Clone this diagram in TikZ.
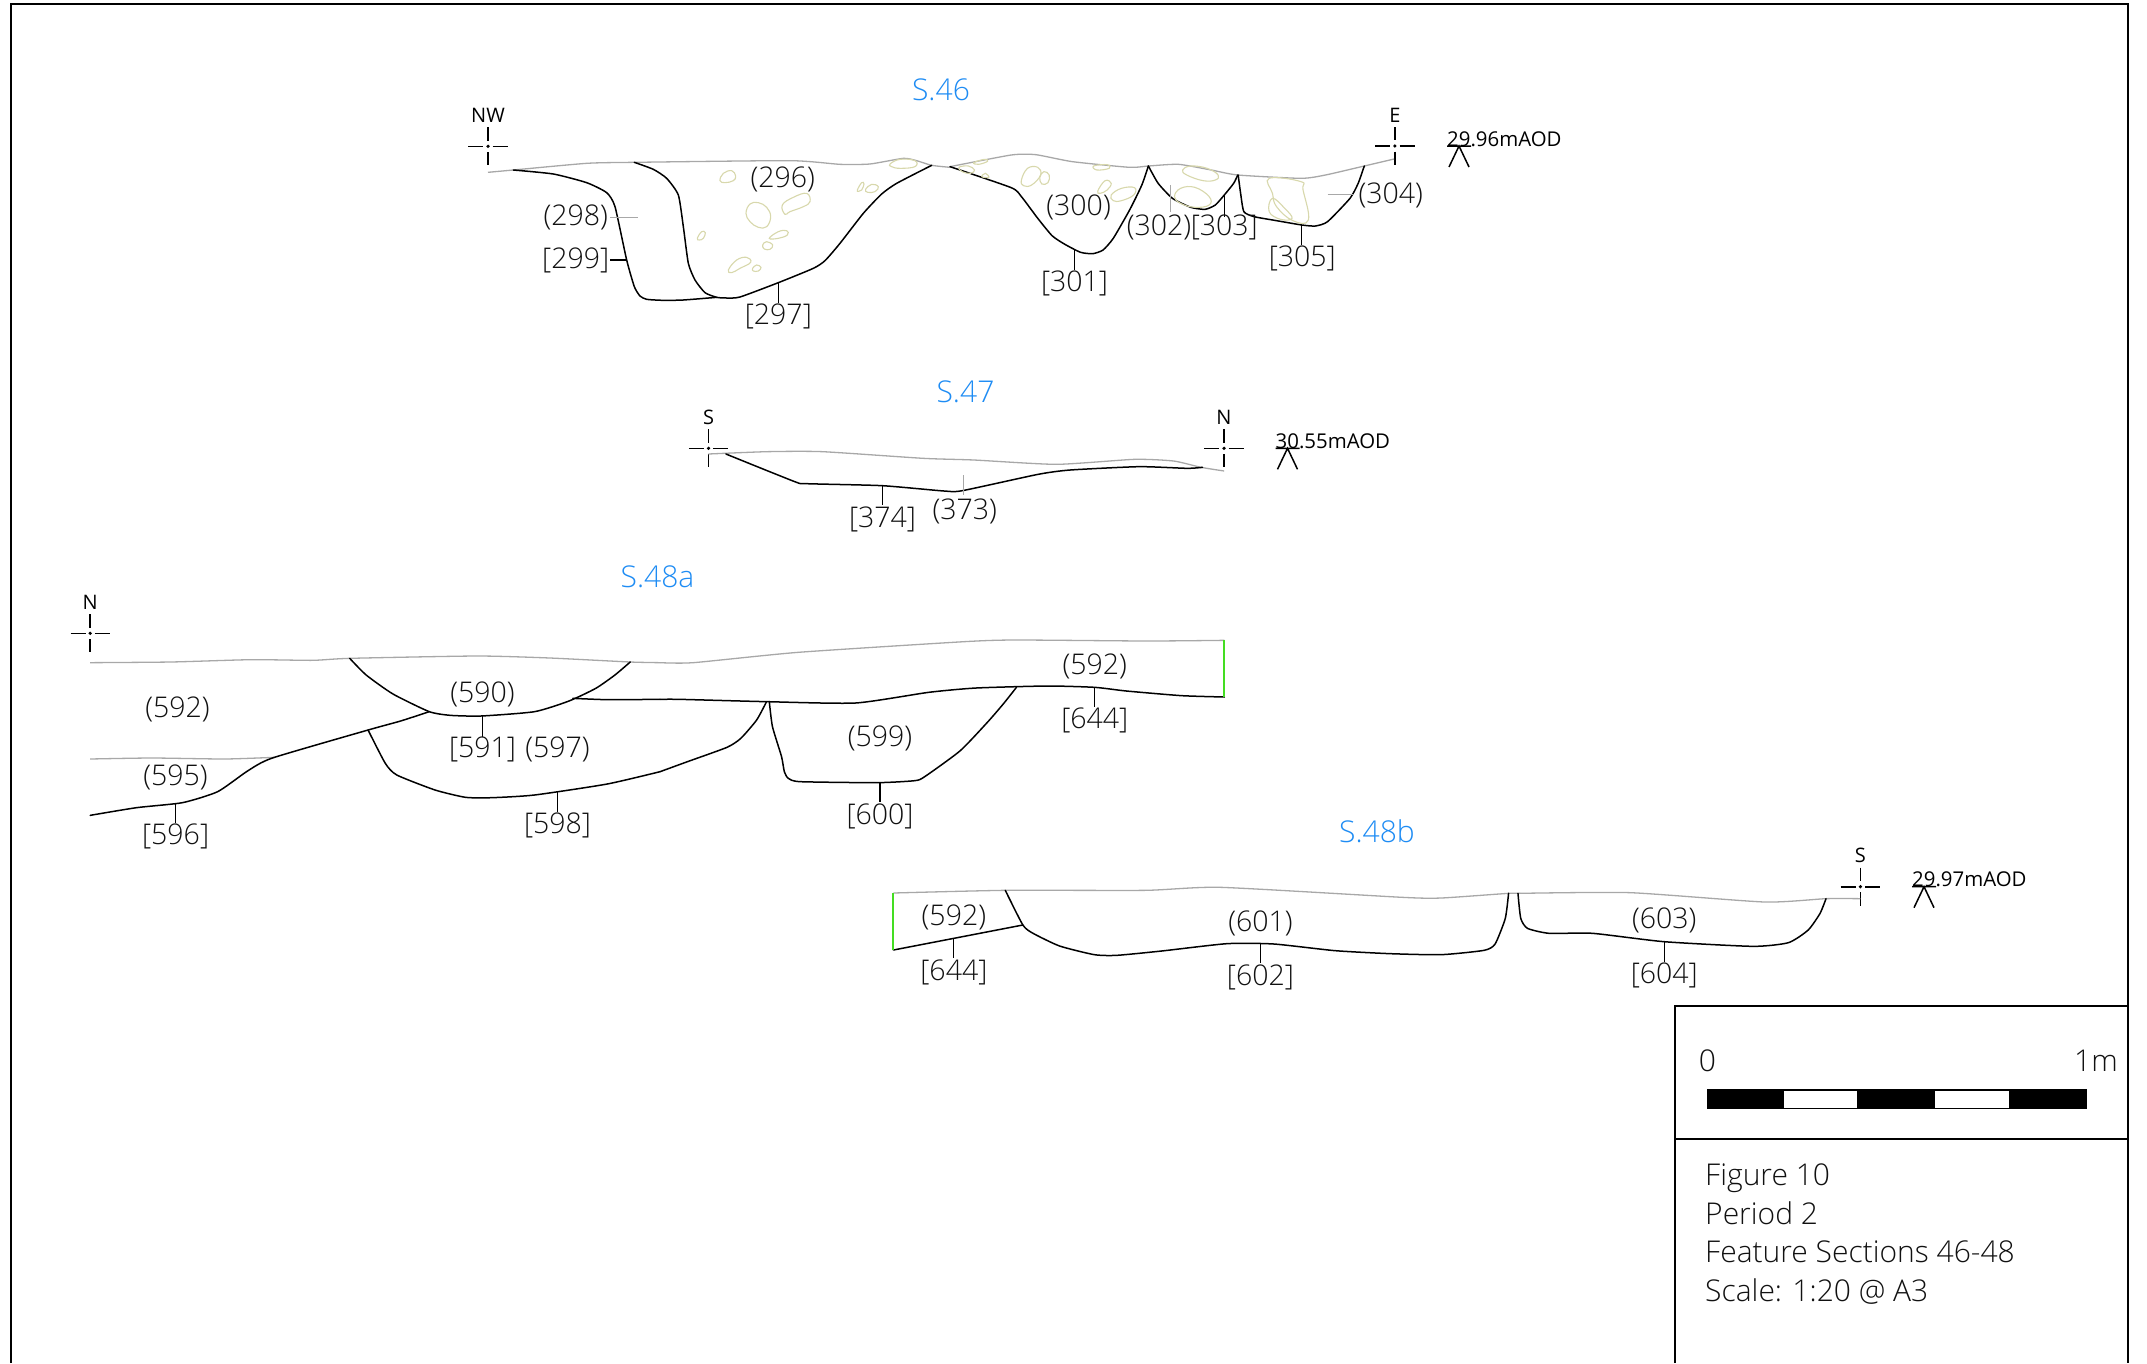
\documentclass[tikz,border=0pt]{standalone}
\usepackage{fontspec}
\setmainfont{Open Sans}[UprightFont=* Light]
\newfontfamily\regfont{Open Sans}
\definecolor{inkc}{HTML}{111111}
\definecolor{blueh}{HTML}{1E8CF4}
\definecolor{groundc}{HTML}{A8A8A8}
\definecolor{stonec}{HTML}{D8D8AC}
\definecolor{edgec}{HTML}{44DD22}
\tikzset{
 zm/.style n args={4}{shift={(#1pt,-#2pt)},x=#3pt,y=-#4pt},
 lab/.style={font=\fontsize{28.5}{30}\selectfont,text=inkc,inner sep=0pt,yshift=-1.2pt},
 head/.style={font=\fontsize{30}{32}\selectfont,text=blueh,inner sep=0pt},
 ttl/.style={font=\fontsize{30}{32}\selectfont,text=inkc,inner sep=0pt,anchor=base west},
 pt/.style={font=\regfont\fontsize{20}{22}\selectfont,text=black,inner sep=0pt},
 aod/.style={font=\regfont\fontsize{20.4}{22}\selectfont,text=black,inner sep=0pt},
 cutl/.style={black,line width=1.5pt,line join=round,line cap=round},
 ground/.style={groundc,line width=1.3pt,line join=round},
 leader/.style={black,line width=1.2pt},
 gleader/.style={groundc,line width=1.2pt},
 stone/.style={stonec,line width=1.1pt},
 frameb/.style={black,line width=2pt},
}
\newcommand{\smoothp}[2]{\draw[#1] plot[smooth,tension=.35] coordinates {#2};}
\newcommand{\stoneshape}[1]{\draw[stone] plot[smooth cycle,tension=.7] coordinates {#1};}
\newcommand{\marker}[5]{% name, x, y, letter, label-dy
 \node[pt] (#1) at (#2pt,-#3pt+#5pt) {#4};
 \begin{scope}[shift={(#2pt,-#3pt)}]
 \draw[line width=1.6pt] (-19.7,0)--(-4.7,0) (4.7,0)--(19.7,0) (0,-19)--(0,-5.7) (0,5.7)--(0,19);
 \fill (0,0) circle (1.8pt);
 \end{scope}}
\newcommand{\datum}[4]{% name, x, y(line), text
 \begin{scope}[shift={(#2pt,-#3pt)}]
 \draw[line width=1.5pt] (-12,0)--(12,0) (-10,21)--(0,0)--(10,21);
 \end{scope}
 \node[aod,anchor=west] (#1) at (#2pt-12pt,-#3pt+7pt) {#4};}
\begin{document}
\begin{tikzpicture}[x=1pt,y=-1pt]
\useasboundingbox (0,0) rectangle (2147,1363);
\fill[white] (0,0) rectangle (2147,1363);
% frame
\draw[frameb] (11,1363)--(11,4)--(2128,4)--(2128,1363);
\draw[frameb] (1675,1363)--(1675,1006)--(2128,1006);
\draw[frameb] (1675,1139)--(2128,1139);
% scale bar
\fill[black] (1706.7,1089) rectangle (2086.7,1109.3);
\fill[white] (1784,1090.7) rectangle (1857.3,1108);
\fill[white] (1935.3,1090.7) rectangle (2009,1108);
\node[lab,font=\fontsize{30}{32}\selectfont] (sc0) at (1707.3,1059.3) {0};
\node[lab,font=\fontsize{30}{32}\selectfont] (sc1) at (2096,1059.3) {1m};
\node[ttl] (t1) at (1705,1185) {Figure 10};
\node[ttl] (t2) at (1705,1224) {Period 2};
\node[ttl] (t3) at (1705,1262.5) {Feature Sections 46-48};
\node[ttl] (t4) at (1705,1301.5) {Scale: 1:20 @ A3};
% headings
\node[head] (h46) at (941,90) {S.46};
\node[head] (h47) at (965.5,391.5) {S.47};
\node[head] (h48a) at (657.5,577) {S.48a};
\node[head] (h48b) at (1377,831.5) {S.48b};
% markers
\marker{mNW}{488}{146.3}{NW}{31}
\marker{mE}{1394.9}{146}{E}{31}
\marker{mS}{708.5}{448.3}{S}{31}
\marker{mN}{1224}{448.3}{N}{31}
\marker{mNa}{90.2}{633.3}{N}{31}
\marker{mSb}{1860.4}{886.7}{S}{31}
% datum
\datum{d46}{1459}{146}{29.96mAOD}
\datum{d47}{1287.5}{448.3}{30.55mAOD}
\datum{d48}{1924}{886.7}{29.97mAOD}
% ---------- S.46 left
\begin{scope}[zm={450}{50}{.33333}{.33333}]
\smoothp{ground}{(114,367)(190,360)(410,340)(550,337)(1020,332)(1170,343)(1260,342)(1360,325)(1400,332)(1445,346)(1500,352)}
\smoothp{cutl}{(190,360)(310,372)(410,398)(470,428)(495,470)(530,630)(553,710)(570,738)(590,748)(640,751)(700,750)(800,742)}
\smoothp{cutl}{(553,337)(610,358)(650,385)(685,435)(700,530)(715,640)(735,690)(765,728)(800,742)(830,744)(870,741)(985,698)(1090,655)(1125,632)(1170,580)(1240,490)(1295,432)(1340,400)(1445,346)}
\draw[gleader] (480,503)--(565,503);
\draw[leader] (480,630)--(530,630) (985,698)--(985,760);
\stoneshape{(810,392)(820,370)(845,362)(857,378)(850,392)(825,398)}
\stoneshape{(888,490)(900,462)(925,458)(950,472)(962,500)(950,530)(925,532)(900,515)}
\stoneshape{(997,465)(1030,442)(1070,430)(1080,455)(1060,470)(1020,485)(1005,493)}
\stoneshape{(742,565)(755,545)(766,548)(760,565)(748,570)}
\stoneshape{(958,565)(985,545)(1010,542)(1012,555)(985,565)}
\stoneshape{(938,585)(950,575)(968,585)(960,598)(943,597)}
\stoneshape{(835,660)(860,630)(890,622)(902,637)(870,655)(845,668)}
\stoneshape{(908,655)(920,645)(933,652)(925,663)(910,663)}
\stoneshape{(1222,420)(1235,398)(1242,402)(1235,420)(1226,424)}
\stoneshape{(1247,418)(1265,403)(1285,410)(1275,425)(1253,427)}
\stoneshape{(1320,342)(1350,328)(1395,332)(1395,350)(1350,355)(1325,350)}
\node[lab] (l296) at (998,385) {(296)};
\node[lab] (l298) at (377,498) {(298)};
\node[lab] (l299) at (377,628) {[299]};
\node[lab] (l297) at (985,795) {[297]};
\end{scope}
% ---------- S.46 right
\begin{scope}[zm={950}{90}{.40816}{.33333}]
\smoothp{ground}{(0,230)(150,195)(210,194)(300,215)(440,232)(486,228)(560,223)(640,240)(705,255)(860,265)(920,255)(1015,228)(1088,207)}
\smoothp{cutl}{(0,230)(150,293)(175,320)(215,385)(250,437)(280,462)(320,487)(350,491)(375,480)(400,445)(440,360)(470,285)(486,228)}
\smoothp{cutl}{(486,228)(510,280)(545,325)(590,352)(625,358)(650,345)(672,315)(695,280)(705,255)}
\smoothp{cutl}{(706,255)(712,310)(720,365)(745,380)(800,392)(862,405)(895,408)(925,395)(980,325)(1000,280)(1015,228)}
\draw[leader] (305,480)--(305,540) (673,315)--(673,380) (862,405)--(862,465);
\draw[gleader] (925,314)--(990,314) (541,285)--(541,365);
\stoneshape{(22,232)(45,228)(60,240)(50,250)(30,245)}
\stoneshape{(58,218)(85,208)(92,214)(70,223)}
\stoneshape{(78,260)(87,250)(95,262)}
\stoneshape{(175,270)(190,235)(215,232)(222,255)(200,285)(180,287)}
\stoneshape{(220,262)(230,245)(243,255)(240,278)(225,282)}
\stoneshape{(352,228)(385,224)(390,235)(360,240)}
\stoneshape{(362,303)(380,272)(395,280)(385,300)(368,310)}
\stoneshape{(395,315)(420,295)(452,293)(450,315)(420,332)(400,332)}
\stoneshape{(570,240)(590,228)(630,235)(657,255)(650,270)(620,272)(580,255)}
\stoneshape{(550,320)(565,295)(600,292)(635,320)(635,345)(600,352)(565,340)}
\stoneshape{(782,265)(860,275)(865,300)(878,390)(840,392)(800,350)(790,310)}
\stoneshape{(782,365)(790,325)(820,355)(838,385)(810,388)}
\node[lab] (l300) at (315,350) {(300)};
\node[lab] (l302) at (512,408) {(302)};
\node[lab] (l303) at (672,408) {[303]};
\node[lab] (l304) at (1080,312) {(304)};
\node[lab] (l305) at (863,503) {[305]};
\node[lab] (l301) at (305,577) {[301]};
\end{scope}
% ---------- S.47
\begin{scope}[zm={680}{370}{.45914}{.33333}]
\smoothp{ground}{(62,252)(190,245)(310,245)(530,265)(640,270)(820,283)(990,268)(1075,273)(1135,292)(1185,303)}
\smoothp{cutl}{(100,252)(250,335)(275,341)(440,347)(575,363)(615,362)(780,313)(850,300)(1000,290)(1105,295)(1138,292)}
\draw[leader] (441,347)--(441,405);
\draw[gleader] (617,315)--(617,375);
\node[lab] (l374) at (441,445) {[374]};
\node[lab] (l373) at (620,422) {(373)};
\end{scope}
% ---------- S.48a left
\begin{scope}[zm={60}{580}{.3827}{.33333}]
\smoothp{ground}{(79,248)(290,246)(500,239)(660,241)(757,235)(1090,228)(1280,234)(1490,246)(1568,248)}
\smoothp{ground}{(79,537)(240,534)(430,537)(560,532)}
\smoothp{cutl}{(79,706)(200,683)(320,668)(412,635)(490,573)(555,534)(805,450)(890,423)(965,395)}
\smoothp{cutl}{(757,235)(800,285)(870,342)(965,395)(1020,406)(1100,408)(1240,395)(1330,363)(1400,325)(1450,285)(1490,246)}
\smoothp{cutl}{(1340,355)(1430,359)(1568,358)}
\smoothp{cutl}{(805,450)(850,550)(880,585)(980,630)(1060,652)(1130,653)(1240,645)(1430,612)(1568,575)}
\draw[leader] (1103,408)--(1103,470) (302,670)--(302,730) (1300,635)--(1300,695);
\node[lab] (a592) at (307,384) {(592)};
\node[lab] (a595) at (302,590) {(595)};
\node[lab] (a596) at (302,767) {[596]};
\node[lab] (a590) at (1104,340) {(590)};
\node[lab] (a591) at (1104,505) {[591]};
\node[lab] (a597) at (1300,505) {(597)};
\node[lab] (a598) at (1300,732) {[598]};
\end{scope}
% ---------- S.48a right
\begin{scope}[zm={640}{620}{.39541}{.33333}]
\smoothp{ground}{(50.8,128)(135,128)(400,97)(820,65)(950,60)(1280,63)(1478,61)}
\smoothp{cutl}{(50.8,238)(100,238)(320,245)(545,249)(730,217)(850,204)(1030,198)(1150,202)(1230,213)(1370,227)(1478,231)}
\smoothp{cutl}{(50.8,455)(120,425)(220,382)(255,355)(295,300)(320,245)}
\smoothp{cutl}{(327,245)(335,320)(358,410)(365,455)(375,475)(405,485)(600,488)(695,482)(720,470)(810,392)(880,305)(920,250)(952,202)}
\draw[edgec,line width=2pt] (1478,61)--(1478,231);
\draw[leader] (607,488)--(607,545) (1150,202)--(1150,260);
\node[lab] (a599) at (607,352) {(599)};
\node[lab] (a600) at (607,585) {[600]};
\node[lab] (a592b) at (1150,137) {(592)};
\node[lab] (a644) at (1150,297) {[644]};
\end{scope}
% ---------- S.48b left
\begin{scope}[zm={880}{820}{.40816}{.33333}]
\smoothp{ground}{(33,219)(307,211)(650,211)(835,202)(1280,232)(1375,234)(1540,220)(1568,220)}
\smoothp{cutl}{(307,211)(350,315)(375,340)(440,378)(525,404)(580,406)(690,393)(850,371)(965,372)(1115,392)(1250,401)(1375,404)(1480,391)(1507,372)(1532,295)(1540,220)}
\smoothp{cutl}{(33,390)(350,315)}
\draw[edgec,line width=2pt] (33,219)--(33,390);
\draw[leader] (181,357)--(181,415) (933,372)--(933,430);
\node[lab] (b592) at (181,288) {(592)};
\node[lab] (b644) at (181,453) {[644]};
\node[lab] (b601) at (932,307) {(601)};
\node[lab] (b602) at (932,470) {[602]};
\end{scope}
% ---------- S.48b right
\begin{scope}[zm={1480}{820}{.39541}{.33333}]
\smoothp{ground}{(100,220)(380,218)(720,246)(875,236)(962,236)}
\smoothp{cutl}{(96,220)(103,295)(120,325)(175,340)(285,340)(465,365)(690,379)(780,368)(830,330)(860,280)(875,236)}
\draw[leader] (466,365)--(466,425);
\node[lab] (b603) at (466,297) {(603)};
\node[lab] (b604) at (466,462) {[604]};
\end{scope}
\end{tikzpicture}
\end{document}
